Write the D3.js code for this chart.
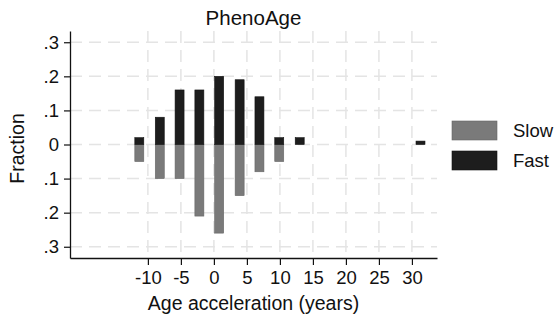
<!DOCTYPE html>
<html>
<head>
<meta charset="utf-8">
<script src="https://cdn.jsdelivr.net/npm/d3@7"></script>
<style>
  html, body { margin: 0; padding: 0; background: #fff; }
  svg { display: block; font-family: "Liberation Sans", Arial, Helvetica, sans-serif; }
</style>
</head>
<body>
<svg id="chart" width="558" height="317"></svg>
<script>
// bin centres (years of age acceleration)
const binCenters = [-11.3, -8.2, -5.2, -2.2, 0.8, 3.9, 6.9, 9.9, 13.0, 31.3];
// fraction per bin, slow drawn downward, fast upward
const slowValues = [0.05, 0.10, 0.10, 0.21, 0.26, 0.15, 0.08, 0.05, 0, 0];
const fastValues = [0.02, 0.08, 0.16, 0.16, 0.20, 0.19, 0.14, 0.02, 0.02, 0.01];
const xTicks = [-10, -5, 0, 5, 10, 15, 20, 25, 30];
const yTicks = [-0.3, -0.2, -0.1, 0, 0.1, 0.2, 0.3];
const seriesNames = ['Slow', 'Fast'];
const seriesColors = ['#7a7a7a', '#1d1d1d'];

const svg = d3.select('#chart');
const plot = { left: 70, right: 437, top: 31, bottom: 258 };
const barW = 1.36; // bar width in data units

const x = d3.scaleLinear().domain([-21.8, 33.8]).range([plot.left, plot.right]);
const y = d3.scaleLinear().domain([-0.333, 0.333]).range([plot.bottom, plot.top]);

// --- grid ---
const grid = svg.append('g').attr('class', 'grid')
  .attr('stroke', '#e4e4e4').attr('stroke-width', 1.5).attr('stroke-dasharray', '12,7');
grid.selectAll('line.h')
  .data(yTicks)
  .join('line')
  .attr('x1', plot.left).attr('x2', plot.right)
  .attr('y1', d => y(d)).attr('y2', d => y(d));
grid.selectAll('line.v')
  .data(xTicks)
  .join('line')
  .attr('x1', d => x(d)).attr('x2', d => x(d))
  .attr('y1', plot.top).attr('y2', plot.bottom);

// --- bars ---
const rows = binCenters.map((c, i) => ({ c, slow: slowValues[i], fast: fastValues[i] }));

svg.append('g').selectAll('rect')
  .data(rows.filter(d => d.slow > 0))
  .join('rect')
  .attr('x', d => x(d.c - barW / 2))
  .attr('width', d => x(d.c + barW / 2) - x(d.c - barW / 2))
  .attr('y', y(0))
  .attr('height', d => y(-d.slow) - y(0))
  .attr('fill', seriesColors[0])
  .attr('stroke', '#666').attr('stroke-width', 0.6);

svg.append('g').selectAll('rect')
  .data(rows.filter(d => d.fast > 0))
  .join('rect')
  .attr('x', d => x(d.c - barW / 2))
  .attr('width', d => x(d.c + barW / 2) - x(d.c - barW / 2))
  .attr('y', d => y(d.fast))
  .attr('height', d => y(0) - y(d.fast))
  .attr('fill', seriesColors[1])
  .attr('stroke', '#111').attr('stroke-width', 0.6);

// --- axes ---
const fmtY = v => {
  const a = Math.abs(v);
  return a === 0 ? '0' : d3.format('.1f')(a).replace(/^0/, '');
};

const yAxis = svg.append('g')
  .attr('transform', `translate(${plot.left},0)`)
  .call(d3.axisLeft(y).tickValues(yTicks).tickFormat(fmtY).tickSize(6).tickPadding(5).tickSizeOuter(0));
const xAxis = svg.append('g')
  .attr('transform', `translate(0,${plot.bottom})`)
  .call(d3.axisBottom(x).tickValues(xTicks).tickFormat(d3.format('d')).tickSize(7).tickPadding(6).tickSizeOuter(0));

[yAxis, xAxis].forEach(a => {
  a.select('.domain').attr('stroke', '#111').attr('stroke-width', 1.3);
  a.selectAll('.tick line').attr('stroke', '#111').attr('stroke-width', 1.2);
  a.selectAll('.tick text').attr('font-size', 18.5).attr('fill', '#111')
    .attr('font-family', '"Liberation Sans", Arial, sans-serif');
});
// d3 puts a minus sign; the picture uses a hyphen
xAxis.selectAll('.tick text').text(d => String(d));

// --- titles ---
svg.append('text')
  .attr('x', (plot.left + plot.right) / 2).attr('y', 25)
  .attr('text-anchor', 'middle').attr('font-size', 20.5).attr('fill', '#111')
  .text('PhenoAge');

svg.append('text')
  .attr('x', (plot.left + plot.right) / 2).attr('y', 310)
  .attr('text-anchor', 'middle').attr('font-size', 19.5).attr('fill', '#111')
  .text('Age acceleration (years)');

svg.append('text')
  .attr('transform', `translate(24,${(plot.top + plot.bottom) / 2 + 4}) rotate(-90)`)
  .attr('text-anchor', 'middle').attr('font-size', 19.5).attr('fill', '#111')
  .text('Fraction');

// --- legend ---
const legend = svg.append('g').attr('transform', 'translate(452,121)');
const item = legend.selectAll('g')
  .data(seriesNames)
  .join('g')
  .attr('transform', (d, i) => `translate(0,${i * 30})`);
item.append('rect')
  .attr('width', 45).attr('height', 19)
  .attr('fill', (d, i) => seriesColors[i])
  .attr('stroke', (d, i) => i === 0 ? '#666' : '#111').attr('stroke-width', 0.6);
item.append('text')
  .attr('x', 61).attr('y', 16)
  .attr('font-size', 18.5).attr('fill', '#111')
  .text(d => d);
</script>
</body>
</html>
